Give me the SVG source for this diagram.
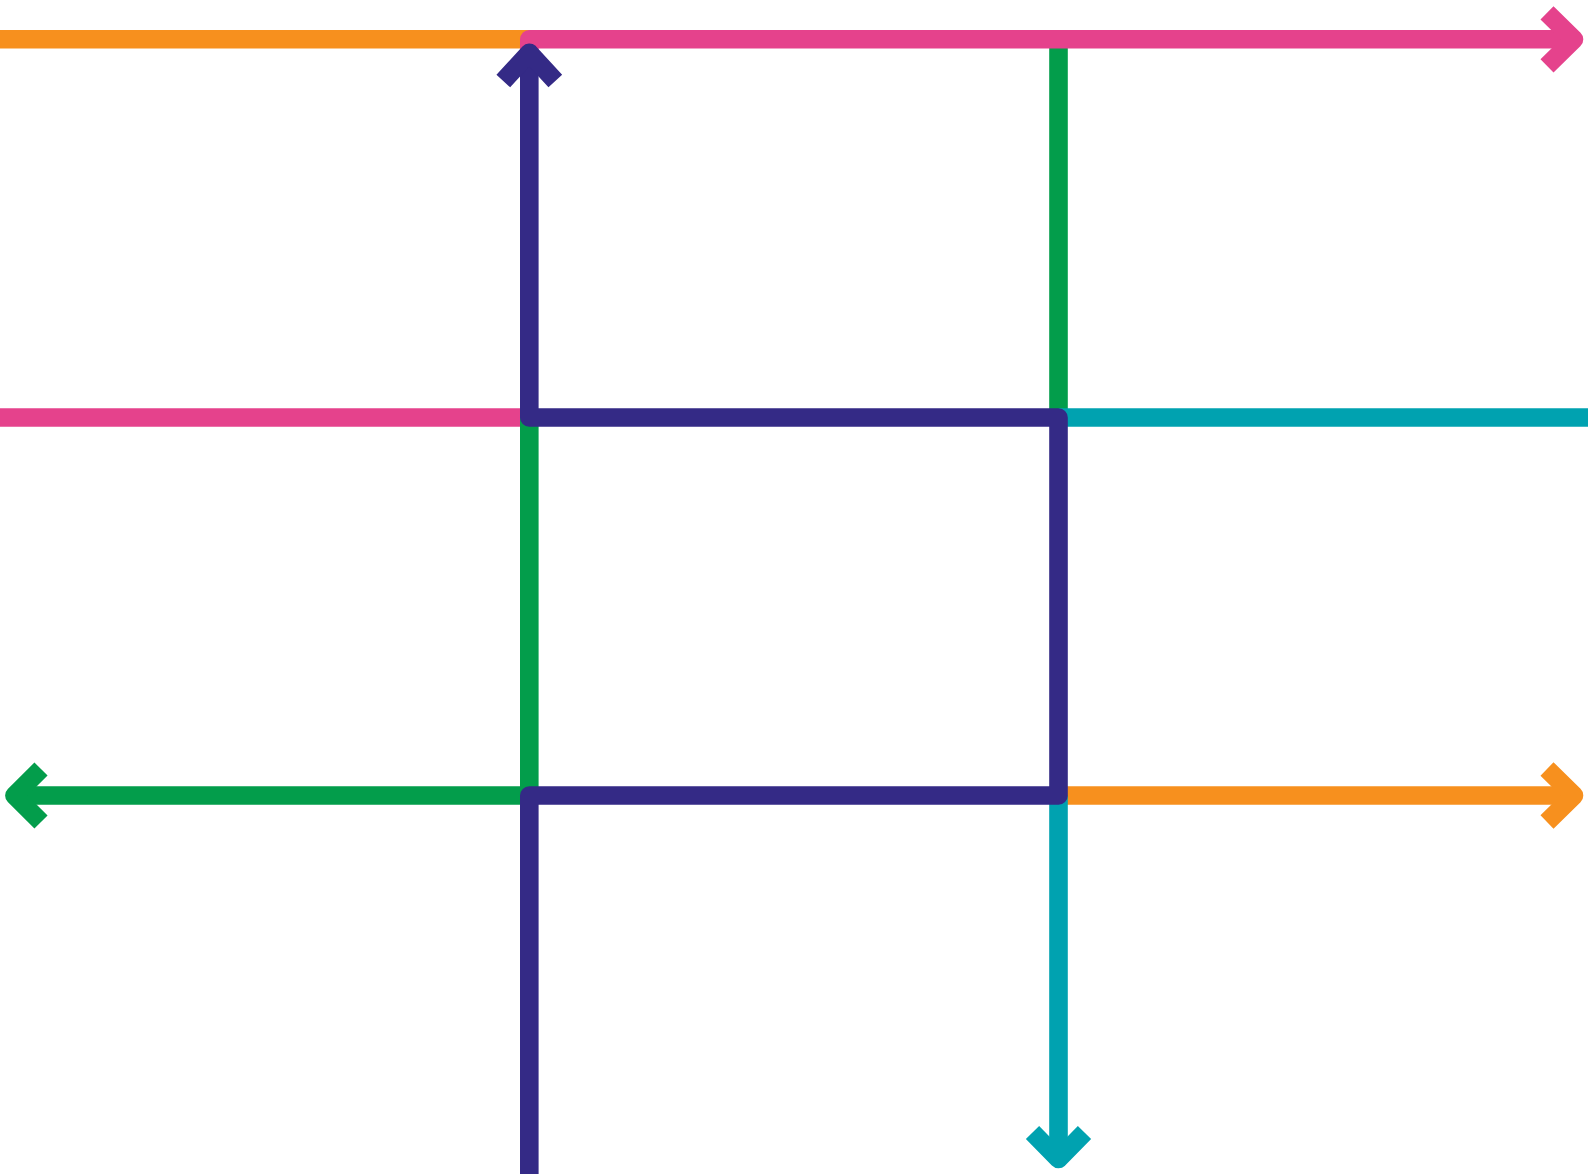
<svg xmlns="http://www.w3.org/2000/svg" width="1588" height="1174" viewBox="0 0 1588 1174">
<style>
.ln{fill:none;stroke-width:18.6;stroke-linecap:butt;stroke-linejoin:round}
.orange{stroke:#F7901E}
.pink{stroke:#E5428C}
.purple{stroke:#342A86}
.green{stroke:#039D4B}
.cyan{stroke:#00A2B0}
</style>
<rect width="1588" height="1174" fill="#FFFFFF"/>
<g id="connectors">
<path class="ln orange" d="M0,39.3 L530,39.3"/>
<path class="ln green" d="M1058.5,36 L1058.5,417.5"/>
<path class="ln pink" d="M529.3,50 L529.3,39.3 L1574,39.3"/>
<path class="ln pink" d="M1547,12.8 L1574,39.3 L1547,65.8"/>
<path class="ln pink" d="M0,417.5 L530,417.5"/>
<path class="ln cyan" d="M1058.5,417.5 L1588,417.5"/>
<path class="ln green" d="M529.3,417.5 L529.3,795.5 L14.4,795.5"/>
<path class="ln green" d="M41,769 L14.4,795.5 L41,822"/>
<path class="ln orange" d="M1058.5,795.5 L1574,795.5"/>
<path class="ln orange" d="M1547,769 L1574,795.5 L1547,822"/>
<path class="ln cyan" d="M1058.5,795.5 L1058.5,1159"/>
<path class="ln cyan" d="M1032.5,1132.5 L1058.5,1159 L1084.5,1132.5"/>
<path class="ln purple" d="M529.3,1174 L529.3,795.5 L1058.5,795.5 L1058.5,417.5 L529.3,417.5 L529.3,52.7"/>
<path class="ln purple" d="M503.3,81 L529.3,52.7 L555.3,81"/>
</g>
</svg>
